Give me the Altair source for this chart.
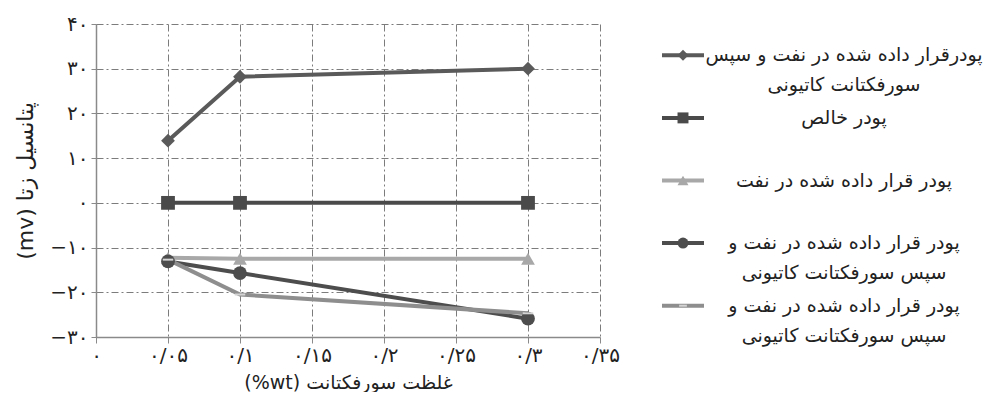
import json
import altair as alt
import pandas as pd

# ---------------- data ----------------
x_values = [0.05, 0.1, 0.3]
series_keys = ["s1", "s2", "s3", "s4", "s5"]
s1_values = [13.9, 28.2, 30.0]
s2_values = [0.0, 0.0, 0.0]
s3_values = [-12.3, -12.5, -12.5]
s4_values = [-13.1, -15.7, -25.9]
s5_values = [-12.7, -20.5, -24.7]
series_values = [s1_values, s2_values, s3_values, s4_values, s5_values]

legend_labels = [
    "پودرقرار داده شده در نفت و سپس\nسورفکتانت کاتیونی",
    "پودر خالص",
    "پودر قرار داده شده در نفت",
    "پودر قرار داده شده در نفت و\nسپس سورفکتانت کاتیونی",
    "پودر قرار داده شده در نفت و\nسپس سورفکتانت کاتیونی",
]

x_tick_values = [0, 0.05, 0.1, 0.15, 0.2, 0.25, 0.3, 0.35]
x_tick_labels = ["۰", "۰/۰۵", "۰/۱", "۰/۱۵", "۰/۲", "۰/۲۵", "۰/۳", "۰/۳۵"]
y_tick_values = [-30, -20, -10, 0, 10, 20, 30, 40]
y_tick_labels = ["−۳۰", "−۲۰", "−۱۰", "۰", "۱۰", "۲۰", "۳۰", "۴۰"]

x_title = "(%wt) غلظت سورفکتانت"
y_title = "(mv) پتانسیل زتا"

# ---------------- styles ----------------
line_colors = ["#5a5a5a", "#4a4a4a", "#a8a8a8", "#4d4d4d", "#8e8e8e"]
shapes = ["diamond", "square", "triangle-up", "circle"]
FONT = "DejaVu Sans"

rows = []
for key, vals in zip(series_keys, series_values):
    for xv, yv in zip(x_values, vals):
        rows.append({"series": key, "x": xv, "y": yv})
df = pd.DataFrame(rows)

x_expr = json.dumps(x_tick_labels, ensure_ascii=False) + "[round(datum.value/0.05)]"
y_expr = json.dumps(y_tick_labels, ensure_ascii=False) + "[round((datum.value+30)/10)]"

grid_dash = [7, 3, 2, 3]
GRID = "#7c7c7c"
color_scale = alt.Scale(domain=series_keys, range=line_colors)
shape_scale = alt.Scale(domain=series_keys[:4], range=shapes)

x_enc = alt.X(
    "x:Q",
    scale=alt.Scale(domain=[0, 0.35], nice=False),
    axis=alt.Axis(
        values=x_tick_values, labelExpr=x_expr, title=x_title,
        grid=True, gridDash=grid_dash, gridColor=GRID, gridWidth=1,
        domainColor="#8a8a8a", domainWidth=1.5, tickColor="#8a8a8a", tickSize=6,
        labelFontSize=20, labelColor="#222", titleFontSize=19, titleFontWeight="normal",
        titleColor="#222", labelPadding=2, titlePadding=8, labelFlush=False,
        labelOverlap=False,
    ),
)
y_enc = alt.Y(
    "y:Q",
    scale=alt.Scale(domain=[-30, 40], nice=False),
    axis=alt.Axis(
        values=y_tick_values, labelExpr=y_expr, title=y_title,
        grid=True, gridDash=grid_dash, gridColor=GRID, gridWidth=1,
        domainColor="#8a8a8a", domainWidth=1.5, tickColor="#8a8a8a", tickSize=5,
        labelFontSize=20, labelColor="#222", titleFontSize=22, titleFontWeight="normal",
        titleColor="#222", labelPadding=3, titlePadding=12, labelFlush=False,
        labelOverlap=False,
    ),
)

base = alt.Chart(df)
lines = base.mark_line(strokeWidth=4).encode(
    x=x_enc, y=y_enc,
    color=alt.Color("series:N", scale=color_scale, legend=None),
    order=alt.Order("x:Q"),
)
points = base.transform_filter(alt.datum.series != "s5").mark_point(
    filled=True, opacity=1, size=190
).encode(
    x="x:Q", y="y:Q",
    color=alt.Color("series:N", scale=color_scale, legend=None),
    shape=alt.Shape("series:N", scale=shape_scale, legend=None),
)
dashes = base.transform_filter(alt.datum.series == "s5").mark_point(
    shape="stroke", filled=False, size=110, strokeWidth=2, color="#d4d4d4", opacity=1
).encode(x="x:Q", y="y:Q")

main = alt.layer(lines, points, dashes).properties(width=504, height=313)

# ---------------- legend panel ----------------
leg_df = pd.DataFrame({"series": series_keys, "label": legend_labels})
leg_y = alt.Y("series:N", scale=alt.Scale(domain=series_keys, type="point", padding=0.5), axis=None)
leg_base = alt.Chart(leg_df)
leg_rule = leg_base.mark_rule(strokeWidth=4).encode(
    x=alt.value(58), x2=alt.value(100), y=leg_y,
    color=alt.Color("series:N", scale=color_scale, legend=None),
)
leg_pts = leg_base.transform_filter(alt.datum.series != "s5").mark_point(
    filled=True, opacity=1, size=120
).encode(
    x=alt.value(79), y=leg_y,
    color=alt.Color("series:N", scale=color_scale, legend=None),
    shape=alt.Shape("series:N", scale=shape_scale, legend=None),
)
leg_dash = leg_base.transform_filter(alt.datum.series == "s5").mark_point(
    shape="stroke", filled=False, size=60, strokeWidth=2, color="#d4d4d4", opacity=1
).encode(x=alt.value(79), y=leg_y)
leg_text = leg_base.mark_text(
    align="center", baseline="middle", fontSize=19, lineBreak="\n", lineHeight=30,
    color="#222", font=FONT,
).encode(x=alt.value(240), y=leg_y, text="label:N")

legend = alt.layer(leg_rule, leg_pts, leg_dash, leg_text).properties(width=375, height=313)

chart = alt.hconcat(main, legend, spacing=4, bounds="flush").properties(
    padding={"left": 6, "top": 6, "right": 2, "bottom": 0}
).configure(font=FONT).configure_view(stroke=None)

chart.save("out.html", embed_options={"renderer": "svg", "actions": False})
